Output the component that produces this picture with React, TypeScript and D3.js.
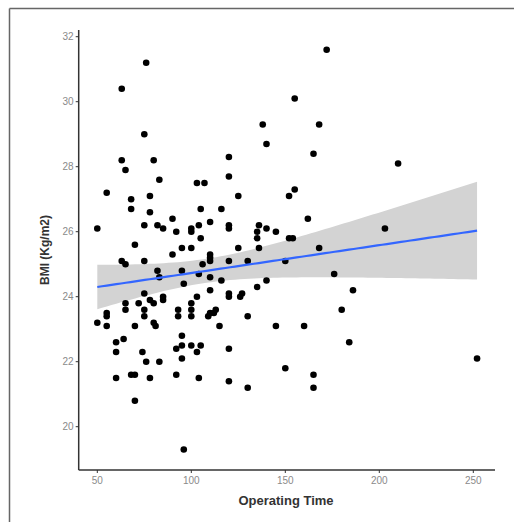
import React from "react";
import * as d3 from "d3";

const operatingTime = [
  50, 50, 55, 55, 55, 55, 60, 60, 60, 63, 63, 65, 63, 65, 65, 65, 64, 68, 68, 70,
  70, 68, 70, 70, 72, 74, 75, 75, 75, 75, 76, 75, 75, 76, 78, 78, 78, 78, 80, 80,
  80, 81, 82, 82, 83, 83, 83, 85, 85, 85, 90, 90, 92, 92, 92, 93, 93, 95, 95, 95,
  95, 95, 96, 96, 100, 100, 100, 100, 100, 100, 100, 103, 107, 103, 103, 104, 104, 104, 105, 105,
  105, 106, 110, 110, 110, 110, 110, 110, 109, 110, 112, 113, 115, 116, 116, 120, 120, 120, 120, 120,
  120, 120, 120, 120, 125, 125, 126, 127, 130, 130, 130, 135, 135, 136, 136, 135, 138, 140, 140, 140,
  145, 145, 150, 150, 152, 152, 154, 155, 155, 160, 162, 165, 165, 165, 168, 168, 172, 176, 180, 184,
  186, 203, 210, 252,
];
const bmi = [
  26.1, 23.2, 27.2, 23.5, 23.4, 23.1, 22.6, 22.3, 21.5, 30.4, 28.2, 27.9, 25.1, 25.0, 23.8, 23.6, 22.7, 27.0, 26.7, 25.6,
  23.1, 21.6, 21.6, 20.8, 23.8, 22.3, 24.1, 23.6, 23.4, 29.0, 31.2, 26.2, 25.1, 22.0, 27.1, 26.6, 23.9, 21.5, 28.2, 23.8,
  23.2, 23.1, 26.2, 24.8, 24.6, 27.6, 22.0, 26.1, 24.0, 23.9, 26.4, 25.3, 26.0, 22.4, 21.6, 23.6, 23.4, 25.5, 24.8, 22.8,
  22.5, 22.1, 24.4, 19.3, 26.1, 26.0, 25.5, 23.8, 23.6, 23.4, 22.5, 27.5, 27.5, 24.0, 22.3, 26.2, 24.7, 21.5, 26.7, 25.8,
  22.5, 25.0, 26.3, 25.3, 25.2, 25.1, 24.6, 24.2, 23.4, 23.5, 23.5, 23.6, 23.1, 26.7, 24.5, 28.3, 27.7, 26.2, 26.1, 25.1,
  24.1, 24.0, 22.4, 21.4, 27.1, 25.5, 24.0, 24.1, 25.1, 23.4, 21.2, 26.0, 25.8, 26.2, 25.5, 24.3, 29.3, 26.1, 28.7, 24.5,
  26.0, 23.1, 25.1, 21.8, 27.1, 25.8, 25.8, 27.3, 30.1, 23.1, 26.4, 28.4, 21.6, 21.2, 29.3, 25.5, 31.6, 24.7, 23.6, 22.6,
  24.2, 26.1, 28.1, 22.1,
];

const xTicks = [50, 100, 150, 200, 250];
const yTicks = [20, 22, 24, 26, 28, 30, 32];

// linear fit with 95% confidence band, as geom_smooth(method = "lm")
function fit(xs: number[], ys: number[]) {
  const n = xs.length;
  const mx = d3.mean(xs)!;
  const my = d3.mean(ys)!;
  let sxx = 0, sxy = 0;
  for (let i = 0; i < n; i++) {
    sxx += (xs[i] - mx) ** 2;
    sxy += (xs[i] - mx) * (ys[i] - my);
  }
  const b = sxy / sxx;
  const a = my - b * mx;
  let sse = 0;
  for (let i = 0; i < n; i++) sse += (ys[i] - a - b * xs[i]) ** 2;
  const s = Math.sqrt(sse / (n - 2));
  const t = 1.977;
  return { a, b, se: (x: number) => t * s * Math.sqrt(1 / n + (x - mx) ** 2 / sxx) };
}

export default function App() {
  const W = 514, H = 522;
  const x = d3.scaleLinear().domain([50, 250]).range([97.3, 473.3]);
  const y = d3.scaleLinear().domain([20, 32]).range([426.7, 36.7]);
  const x0 = 78.7, x1 = 495, yb = 470, yt = 30;

  const f = fit(operatingTime, bmi);
  const [xmin, xmax] = d3.extent(operatingTime) as [number, number];
  const grid = d3.range(0, 81).map((i) => xmin + ((xmax - xmin) * i) / 80);
  const band = d3
    .area<number>()
    .x((d) => x(d))
    .y0((d) => y(f.a + f.b * d - f.se(d)))
    .y1((d) => y(f.a + f.b * d + f.se(d)));
  const line = d3
    .line<number>()
    .x((d) => x(d))
    .y((d) => y(f.a + f.b * d));

  const tickColor = "#8a8a8a";
  const axisColor = "#333";

  return (
    <svg width={W} height={H} style={{ position: "absolute", left: 0, top: 0 }} fontFamily="Liberation Sans, Arial, sans-serif">
      <rect x={0} y={0} width={W} height={H} fill="#fff" />
      <line x1={9.5} y1={8.5} x2={W} y2={8.5} stroke="#666" strokeWidth={1.5} />
      <line x1={9.5} y1={8.5} x2={9.5} y2={H} stroke="#666" strokeWidth={1.5} />

      <path d={band(grid)!} fill="#d3d3d3" />
      {operatingTime.map((d, i) => (
        <circle key={i} cx={x(d)} cy={y(bmi[i])} r={3.3} fill="#000" />
      ))}
      <path d={line(grid)!} fill="none" stroke="#3366ff" strokeWidth={2.2} />

      <line x1={x0} y1={yt} x2={x0} y2={yb} stroke={axisColor} strokeWidth={1.5} />
      <line x1={x0} y1={yb} x2={x1} y2={yb} stroke={axisColor} strokeWidth={1.5} />
      {yTicks.map((t) => (
        <g key={t}>
          <line x1={x0 - 3} x2={x0} y1={y(t)} y2={y(t)} stroke={axisColor} strokeWidth={1} />
          <text x={x0 - 5} y={y(t)} dy="0.35em" textAnchor="end" fontSize={10} fill={tickColor}>
            {t}
          </text>
        </g>
      ))}
      {xTicks.map((t) => (
        <g key={t}>
          <line x1={x(t)} x2={x(t)} y1={yb} y2={yb + 3} stroke={axisColor} strokeWidth={1} />
          <text x={x(t)} y={yb + 14} textAnchor="middle" fontSize={10} fill={tickColor}>
            {t}
          </text>
        </g>
      ))}
      <text x={286} y={505} textAnchor="middle" fontSize={13} fontWeight="bold" fill="#333">
        Operating Time
      </text>
      <text transform={`translate(49,250) rotate(-90)`} textAnchor="middle" fontSize={12} fontWeight="bold" fill="#333">
        BMI (Kg/m2)
      </text>
    </svg>
  );
}
